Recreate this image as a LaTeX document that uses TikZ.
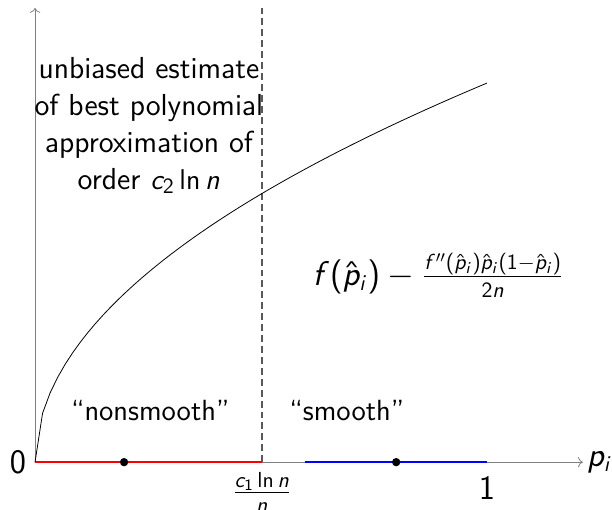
\documentclass[tikz,border=0pt]{standalone}
\usetikzlibrary{arrows.meta,positioning}
% sans serif math, as in slides
\SetSymbolFont{operators}{normal}{OT1}{cmss}{m}{n}
\SetSymbolFont{letters}{normal}{OT1}{cmss}{m}{it}
\tikzset{
  axis/.style={->,gray},
  seg/.style={line width=1pt},
  dot/.style={circle,fill=black,inner sep=0pt,minimum size=4.2pt},
  lbl/.style={font=\sffamily\fontsize{16}{19}\selectfont,align=center},
  blbl/.style={font=\sffamily\fontsize{15.3}{18.6}\selectfont,align=center},
  qlbl/.style={font=\sffamily\fontsize{14.7}{17}\selectfont,align=center}
}

\begin{document}
\begin{tikzpicture}[x=8cm,y=1cm]
  \useasboundingbox (-0.0775,-0.83) rectangle (1.2765,8.18);
  % Axes
  \coordinate (o) at (0,0);
  \coordinate (xend) at (1.212,0);
  \coordinate (yend) at (0,8.04);
  \draw[axis] (o) -- (xend);
  \draw[axis] (o) -- (yend);
  \node[lbl, left=1pt of o] (zero) {$0$};
  \node[lbl, inner sep=1pt, right=1pt of xend] (plbl) {$p_i$};

  % Threshold
  \coordinate (thr) at (0.502,0);
  \coordinate (thrtop) at (0.502,8.04);
  \draw[gray!70!black, line width=0.6pt, dash pattern=on 3.5pt off 2pt] (thr) -- (thrtop);
  \node[lbl, below=1.5pt of thr] (thrlbl) {$\frac{c_1\ln n}{n}$};

  % Regions on the axis
  \coordinate (bstart) at (0.597,0);
  \coordinate (one) at (1,0);
  \draw[seg, red] (o) -- (thr);
  \draw[seg, blue] (bstart) -- (one);
  \node[dot] (d1) at (0.197,0) {};
  \node[dot] (d2) at (0.799,0) {};
  \node[lbl, below=4pt of one] (onelbl) {$1$};

  % Function
  \draw[black] plot[domain=0:1, samples=61] (\x,{6.71*sqrt(\x)});

  % Labels
  \node[blbl] (poly) at (0.252,5.96) {unbiased estimate\\of best polynomial\\approximation of\\order $c_2 \ln n$};
  \node[lbl] (plugin) at (0.892,3.31) {$f(\hat p_i) - \frac{f''(\hat p_i)\hat p_i(1-\hat p_i)}{2n}$};
  \node[qlbl] (nons) at (0.255,0.92) {``nonsmooth''};
  \node[qlbl] (smth) at (0.69,0.92) {``smooth''};
\end{tikzpicture}
\end{document}
